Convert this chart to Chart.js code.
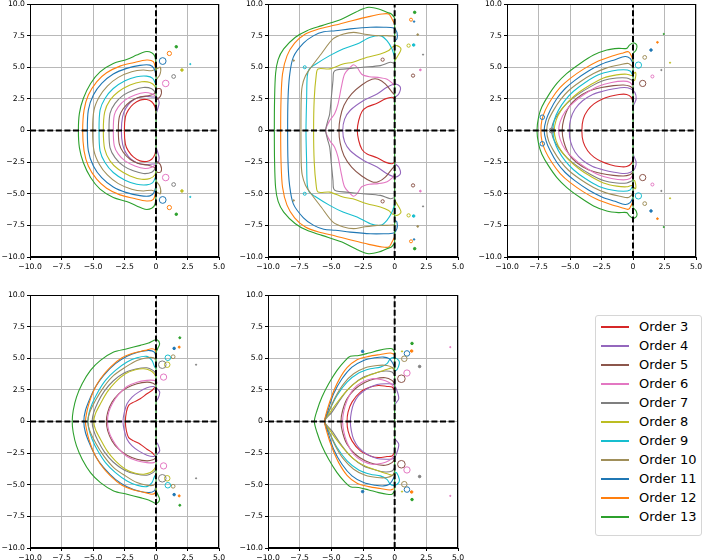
<!DOCTYPE html>
<html>
<head>
<meta charset="utf-8">
<script src="https://cdn.jsdelivr.net/npm/chart.js@4.4.1/dist/chart.umd.min.js"></script>
<style>
  html, body { margin: 0; padding: 0; background: #fff; }
  body { width: 705px; height: 560px; position: relative; overflow: hidden; font-family: "DejaVu Sans", sans-serif; }
  canvas { position: absolute; }
  #legend { position: absolute; left: 595px; top: 315px; width: 107px; height: 221px; border: 1px solid #d6d6d6; border-radius: 3px; background: #fff; box-sizing: border-box; }
  .row { position: absolute; left: 0; height: 19px; width: 100%; }
  .sw { position: absolute; left: 5px; top: 9px; width: 28px; height: 2px; }
  .lbl { position: absolute; left: 43px; top: 1px; font-size: 13px; line-height: 17px; color: #000; white-space: nowrap; }
</style>
</head>
<body>
<canvas id="c1"></canvas>
<canvas id="c2"></canvas>
<canvas id="c3"></canvas>
<canvas id="c4"></canvas>
<canvas id="c5"></canvas>
<div id="legend"></div>
<script>
// ---------------- DATA ----------------
const orders = [3, 4, 5, 6, 7, 8, 9, 10, 11, 12, 13];
const legendLabels = orders.map(o => 'Order ' + o);
const xTicks = [-10, -7.5, -5, -2.5, 0, 2.5, 5];
const yTicks = [-10, -7.5, -5, -2.5, 0, 2.5, 5, 7.5, 10];

// Upper halves of stability-region boundaries (mirrored about the real axis), one per order 3..13
const panelA = [
  [[-2.51,0],[-2.43,1.08],[-2.2,1.61],[-1.8,2.08],[-1.27,2.4],[-0.74,2.45],[-0.34,2.27],[-0.08,1.87],[0,1.35]],
  [[-2.75,0],[-2.65,1.1],[-2.4,1.75],[-2.0,2.25],[-1.4,2.6],[-0.8,2.7],[-0.3,2.65],[0.1,2.6],[0.25,2.2],[0.1,1.6],[0,1.3]],
  [[-2.99,0],[-2.91,1.08],[-2.59,1.74],[-2.06,2.27],[-1.4,2.61],[-0.61,2.75],[-0.16,2.9],[0.1,3.3],[0.4,3.25],[0.35,2.7],[0,2.4]],
  [[-3.39,0],[-3.31,1.21],[-2.99,1.87],[-2.46,2.4],[-1.67,2.8],[-0.87,3.0],[-0.34,2.9],[0,2.7]],
  [[-3.73,0],[-3.65,1.35],[-3.25,2.14],[-2.59,2.8],[-1.8,3.19],[-1.01,3.4],[-0.34,3.3],[0,2.95]],
  [[-4.18,0],[-4.07,1.48],[-3.65,2.4],[-2.99,3.06],[-2.06,3.59],[-1.14,3.85],[-0.48,3.8],[-0.08,3.5],[0,3.1]],
  [[-4.52,0],[-4.44,1.61],[-4.05,2.53],[-3.39,3.32],[-2.46,3.93],[-1.53,4.25],[-0.74,4.3],[-0.26,4.12],[0,3.6]],
  [[-5.03,0],[-4.92,1.61],[-4.5,2.66],[-3.86,3.51],[-2.99,4.2],[-1.93,4.64],[-1.01,4.78],[-0.34,4.72],[0.1,4.9],[0.35,5.0],[0.3,4.4],[0,4.0]],
  [[-5.45,0],[-5.37,1.61],[-4.97,2.8],[-4.31,3.72],[-3.39,4.46],[-2.33,4.91],[-1.27,5.15],[-0.48,5.17],[-0.16,4.91],[0,4.4]],
  [[-5.82,0],[-5.71,1.61],[-5.37,2.8],[-4.71,3.85],[-3.92,4.56],[-2.86,5.09],[-1.8,5.36],[-0.74,5.57],[-0.21,5.44],[0,4.8]],
  [[-6.16,0],[-6.08,1.35],[-5.77,2.53],[-5.19,3.72],[-4.44,4.64],[-3.39,5.3],[-2.33,5.62],[-1.53,5.96],[-0.87,6.23],[-0.34,6.15],[-0.08,5.83],[0,5.04]]
];
const panelB = [
  [[-2.95,0],[-2.84,0.79],[-2.58,1.5],[-2.18,1.85],[-1.39,2.15],[-0.74,2.5],[-0.21,2.63],[0,2.5]],
  [[-4.1,0],[-3.95,0.9],[-3.5,1.6],[-2.45,2.37],[-1.39,2.89],[-0.61,3.42],[0.05,3.68],[0.45,3.42],[0.32,2.89],[0,2.6]],
  [[-4.4,0],[-4.3,1.0],[-4.0,2.0],[-3.4,2.9],[-2.6,3.6],[-1.8,4.05],[-1.3,4.05],[-0.74,3.68],[-0.21,3.03],[0,2.8]],
  [[-5.45,0],[-5.13,0.79],[-4.74,1.32],[-4.47,2.11],[-4.21,3.42],[-3.95,4.47],[-3.5,5.0],[-3.24,5.2],[-2.97,5.0],[-2.6,4.45],[-2.0,4.25],[-1.3,4.2],[-0.6,4.05],[-0.15,3.7],[0,3.5]],
  [[-5.45,0],[-5.3,0.7],[-5.13,1.32],[-5.0,2.63],[-4.87,3.95],[-4.82,4.6],[-4.6,4.79],[-3.82,4.87],[-2.5,5.0],[-1.13,5.13],[-0.34,5.39],[0,5.3]],
  [[-6.4,0],[-6.35,2.5],[-6.2,4.3],[-6.05,4.87],[-5.13,4.87],[-4.08,5.26],[-3.3,5.4],[-2.18,5.79],[-1.13,6.05],[-0.47,6.32],[-0.21,6.58],[0.18,6.71],[0.5,6.45],[0.18,5.79],[0,5.5]],
  [[-7.0,0],[-6.95,2.5],[-6.9,4.3],[-6.75,4.85],[-6.3,5.2],[-5.13,5.92],[-4.08,6.45],[-2.97,6.84],[-1.92,7.37],[-1.13,7.5],[-0.61,7.1],[-0.21,6.45],[0,5.79]],
  [[-7.4,0],[-7.38,2.5],[-7.3,3.5],[-7.05,4.3],[-6.6,5.0],[-5.8,6.05],[-4.87,7.24],[-4.03,7.63],[-3.24,7.76],[-2.45,7.63],[-1.39,7.5],[-0.61,7.5],[0,7.45]],
  [[-8.45,0],[-8.42,2.5],[-8.3,4.3],[-8.0,5.8],[-7.2,6.9],[-6.39,7.5],[-5.6,7.8],[-4.68,7.89],[-3.5,8.03],[-1.92,8.16],[-0.87,8.16],[-0.08,8.1],[0.18,7.76],[0.18,7.24],[0,7.1]],
  [[-9.0,0],[-8.97,2.5],[-8.85,4.5],[-8.5,5.9],[-7.9,6.9],[-7.05,7.63],[-6.0,8.03],[-4.68,8.34],[-3.37,8.68],[-2.05,9.0],[-1.0,9.21],[-0.47,9.21],[-0.21,8.82],[0,8.4]],
  [[-9.5,0],[-9.48,2.5],[-9.4,4.5],[-9.2,5.6],[-8.76,6.45],[-7.84,7.37],[-6.92,7.89],[-5.74,8.29],[-4.16,8.82],[-2.84,9.47],[-2.05,9.74],[-1.26,9.61],[-0.61,9.34],[-0.26,9.21],[0,8.9]]
];
const panelC = [
  [[-4.06,0],[-3.95,0.9],[-3.6,1.6],[-3.1,2.1],[-2.5,2.45],[-1.8,2.7],[-1.1,2.85],[-0.5,2.85],[-0.12,2.6],[0,2.2]],
  [[-5.06,0],[-4.95,0.9],[-4.6,1.7],[-4.0,2.35],[-3.2,2.85],[-2.4,3.1],[-1.5,3.3],[-0.7,3.4],[-0.2,3.3],[0.15,3.0],[0.25,2.5],[0.05,2.0],[0,1.9]],
  [[-5.62,0],[-5.5,0.85],[-5.1,1.85],[-4.45,2.55],[-3.55,3.1],[-2.5,3.4],[-1.55,3.55],[-0.75,3.6],[-0.25,3.5],[0,3.3]],
  [[-5.9,0],[-5.78,0.7],[-5.38,1.5],[-4.72,2.2],[-3.8,2.9],[-2.74,3.5],[-1.7,3.8],[-0.76,3.9],[-0.23,3.8],[0,3.5]],
  [[-6.45,0],[-6.36,0.55],[-5.91,1.35],[-5.25,2.14],[-4.45,2.8],[-3.4,3.45],[-2.34,3.95],[-1.29,4.15],[-0.49,4.15],[0,3.95]],
  [[-6.25,0],[-6.1,0.82],[-5.7,1.61],[-5.12,2.3],[-4.32,3.0],[-3.4,3.6],[-2.34,4.15],[-1.29,4.4],[-0.49,4.45],[-0.1,4.35],[0.2,4.6],[0.15,4.0],[0,3.9]],
  [[-6.35,0],[-6.25,0.82],[-5.91,1.61],[-5.38,2.4],[-4.72,3.1],[-3.79,3.8],[-2.74,4.4],[-1.68,4.7],[-0.76,4.8],[-0.23,4.7],[0,4.3]],
  [[-6.85,0],[-6.7,0.82],[-6.3,1.61],[-5.78,2.4],[-5.12,3.14],[-4.19,3.85],[-3.13,4.5],[-2.08,4.95],[-1.02,5.2],[-0.36,5.3],[0,5.0]],
  [[-7.05,0],[-6.9,0.82],[-6.57,1.61],[-6.04,2.53],[-5.38,3.32],[-4.59,3.98],[-3.53,4.7],[-2.47,5.25],[-1.42,5.6],[-0.63,5.85],[-0.23,5.7],[0,5.3]],
  [[-7.31,0],[-7.23,0.82],[-6.96,1.61],[-6.44,2.53],[-5.78,3.4],[-4.98,4.12],[-3.93,4.85],[-2.87,5.44],[-1.81,5.83],[-0.89,6.1],[-0.36,6.23],[-0.1,5.83],[0,5.5]],
  [[-7.62,0],[-7.49,1.08],[-7.23,1.87],[-6.7,2.8],[-6.04,3.72],[-5.25,4.51],[-4.19,5.3],[-3.13,5.96],[-2.08,6.36],[-1.15,6.49],[-0.49,6.49],[-0.28,6.75],[0.03,6.94],[0.3,6.75],[0.25,6.36],[0,6.1]]
];
const panelD = [
  [[-2.43,0],[-2.35,0.74],[-2.17,1.27],[-1.77,1.53],[-1.25,1.8],[-0.72,2.19],[-0.32,2.45],[-0.13,2.66],[0,2.72]],
  [[-2.62,0],[-2.51,0.74],[-2.3,1.4],[-1.9,1.93],[-1.38,2.32],[-0.72,2.66],[-0.19,2.77],[0.08,2.6],[0.3,2.3],[0.15,1.8],[0,1.6]],
  [[-3.94,0],[-3.83,0.74],[-3.49,1.53],[-2.96,2.19],[-2.3,2.66],[-1.51,2.98],[-0.72,3.11],[-0.24,3.03],[0,2.85]],
  [[-3.85,0],[-3.75,0.74],[-3.45,1.45],[-3.0,2.1],[-2.3,2.77],[-1.51,3.11],[-0.72,3.25],[-0.19,3.25],[0.08,3.11],[0,2.9]],
  [[-5.07,0],[-4.95,0.7],[-4.6,1.55],[-4.1,2.4],[-3.4,3.2],[-2.5,3.85],[-1.6,4.15],[-0.72,4.25],[-0.24,4.04],[0,3.8]],
  [[-4.94,0],[-4.81,0.61],[-4.41,1.4],[-3.88,2.32],[-3.22,3.11],[-2.43,3.77],[-1.64,4.09],[-0.98,4.17],[-0.45,4.04],[-0.13,3.77],[0,3.51]],
  [[-5.4,0],[-5.33,0.61],[-5.07,1.4],[-4.62,2.32],[-4.01,3.25],[-3.22,4.04],[-2.3,4.7],[-1.51,5.04],[-0.72,5.15],[-0.32,4.83],[-0.13,4.36],[0,4.17]],
  [[-5.41,0],[-5.25,0.74],[-4.81,1.66],[-4.15,2.72],[-3.36,3.64],[-2.43,4.3],[-1.51,4.83],[-0.72,5.04],[-0.19,5.04],[0,4.83]],
  [[-5.73,0],[-5.6,0.87],[-5.25,1.8],[-4.81,2.72],[-4.15,3.65],[-3.22,4.57],[-2.3,5.15],[-1.38,5.49],[-0.59,5.62],[-0.13,5.49],[0,5.09]],
  [[-5.6,0],[-5.52,0.61],[-5.33,1.4],[-4.94,2.45],[-4.41,3.38],[-3.62,4.3],[-2.7,5.04],[-1.77,5.41],[-0.85,5.62],[-0.32,5.75],[-0.05,5.62],[0,5.22]],
  [[-6.65,0],[-6.57,0.87],[-6.31,1.93],[-5.86,2.98],[-5.2,4.04],[-4.41,4.83],[-3.36,5.49],[-2.3,5.75],[-1.25,6.02],[-0.59,6.2],[-0.18,6.41],[0.08,6.46],[0.29,6.15],[0.13,5.75],[0,5.49]]
];
const panelE = [
  [[-3.76,0],[-3.68,0.74],[-3.37,1.53],[-2.71,2.32],[-1.92,2.72],[-1.26,2.85],[-0.61,2.77],[-0.21,2.72],[0,2.45]],
  [[-3.5,0],[-3.42,0.74],[-3.24,1.4],[-2.84,2.06],[-2.18,2.59],[-1.39,2.93],[-0.61,2.98],[-0.08,2.93],[0.18,2.45],[0.32,1.8],[0.05,1.4],[0,1.3]],
  [[-4.24,0],[-4.11,0.87],[-3.76,1.8],[-3.11,2.59],[-2.32,3.11],[-1.53,3.38],[-0.74,3.46],[-0.21,3.25],[0,2.98]],
  [[-4.11,0],[-4.03,0.74],[-3.76,1.66],[-3.24,2.59],[-2.58,3.11],[-1.79,3.38],[-1.0,3.3],[-0.47,3.11],[-0.16,2.85],[0,2.59]],
  [[-5.53,0],[-4.95,0.74],[-4.16,1.93],[-3.37,2.85],[-2.45,3.51],[-1.53,3.83],[-0.74,3.99],[-0.21,3.91],[0,3.64]],
  [[-5.53,0],[-5.08,0.74],[-4.42,1.66],[-3.63,2.59],[-2.84,3.25],[-2.05,3.64],[-1.26,3.91],[-0.47,4.17],[-0.16,4.25],[0,4.04]],
  [[-5.53,0],[-5.16,0.87],[-4.55,2.06],[-3.76,3.11],[-2.84,3.83],[-1.92,4.17],[-1.13,4.3],[-0.61,4.57],[-0.34,4.96],[0,5.04],[0.32,4.83],[0.37,4.57],[0.18,4.09],[0,3.99]],
  [[-5.53,0],[-5.21,0.74],[-4.68,1.93],[-4.03,2.98],[-3.24,3.77],[-2.32,4.25],[-1.39,4.43],[-0.61,4.43],[-0.16,4.25],[0,3.91]],
  [[-5.53,0],[-5.26,0.87],[-4.82,2.19],[-4.16,3.38],[-3.37,4.3],[-2.45,4.83],[-1.53,5.04],[-0.87,5.09],[-0.42,4.96],[-0.21,4.7],[0,4.3]],
  [[-5.53,0],[-5.34,0.87],[-4.95,2.06],[-4.42,3.25],[-3.76,4.25],[-2.97,4.88],[-2.05,5.15],[-1.13,5.3],[-0.34,5.41],[0,5.3]],
  [[-6.34,0],[-6.13,0.87],[-5.74,1.93],[-5.21,2.98],[-4.55,4.04],[-3.89,4.83],[-3.5,5.15],[-2.84,5.22],[-2.05,5.41],[-1.26,5.62],[-0.61,5.75],[-0.21,5.75],[0,5.49]]
];

// Small isolated stability islands: [order, x, y, radius] (mirrored about real axis)
const islandsA = [[13,1.61,6.62,0.1],[12,1.06,6.09,0.17],[11,0.53,5.49,0.27],[9,2.72,5.25,0.05],[8,2.06,4.78,0.1],[7,1.40,4.27,0.15],[6,0.77,3.72,0.26]];
const islandsB = [[13,1.58,9.34,0.1],[12,1.29,8.76,0.12],[11,1.53,8.61,0.06],[10,1.82,7.58,0.07],[9,1.5,6.76,0.1],[8,1.1,6.71,0.13],[7,2.24,6.0,0.04],[6,2.03,4.79,0.07],[5,1.45,4.34,0.13],[5,-0.95,5.6,0.13],[9,-7.1,5.0,0.12],[10,-7.97,5.53,0.06]];
const islandsC = [[5,0.77,3.72,0.25],[6,1.54,4.27,0.12],[7,2.25,4.78,0.05],[8,2.94,5.36,0.04],[9,0.43,5.17,0.25],[10,0.93,5.78,0.15],[11,1.43,6.36,0.1],[12,1.94,6.97,0.07],[13,2.44,7.63,0.04],[11,-7.2,1.05,0.18],[7,-6.45,0,0.2]];
const islandsD = [[13,1.89,6.62,0.08],[12,1.84,5.88,0.08],[11,1.44,5.78,0.1],[10,1.36,5.12,0.15],[9,0.94,5.04,0.22],[8,0.89,4.49,0.22],[7,0.5,4.49,0.3],[6,0.6,3.51,0.25],[7,3.18,4.49,0.03]];
const islandsE = [[13,1.37,6.17,0.1],[12,1.34,5.57,0.1],[11,0.97,5.38,0.22],[8,0.58,5.54,0.05],[10,0.76,4.96,0.22],[7,1.97,4.35,0.1],[6,0.97,3.83,0.25],[5,0.53,3.38,0.3],[11,-2.53,5.54,0.1],[6,4.39,5.88,0.03]];

// ---------------- STYLE ----------------
const colorOf = {3:'#d62728',4:'#9467bd',5:'#8c564b',6:'#e377c2',7:'#7f7f7f',8:'#bcbd22',9:'#17becf',10:'#a08f5a',11:'#1f77b4',12:'#ff7f0e',13:'#2ca02c'};
const FONT = {family: "'DejaVu Sans', sans-serif", size: 7.7};
const fmt = v => (v === 0 ? '0' : v.toFixed(1).replace('-', '\u2212'));

const frame = {
  id: 'frame',
  afterDatasetsDraw(chart) {
    const a = chart.chartArea, c = chart.ctx;
    c.save();
    c.strokeStyle = '#000';
    c.lineWidth = 1;
    c.strokeRect(Math.round(a.left) + 0.5, Math.round(a.top) + 0.5, Math.round(a.right - a.left) - 1, Math.round(a.bottom - a.top) - 1);
    c.restore();
  }
};

function closedCurve(upper) {
  const top = upper.slice().reverse().map(([x, y]) => ({x, y}));
  const low = upper.slice(1).map(([x, y]) => ({x, y: -y}));
  return top.concat(low);
}

function makePanel(id, curves, islands, left, top, w, h) {
  const cv = document.getElementById(id);
  const padT = 8, padR = 10, yW = 30, xH = 15;
  cv.width = yW + w + padR;
  cv.height = padT + h + xH;
  cv.style.left = (left - yW) + 'px';
  cv.style.top = (top - padT) + 'px';

  const datasets = [];
  datasets.push({data: [{x: -10, y: 0}, {x: 5, y: 0}], showLine: true, borderColor: '#000', borderWidth: 2, borderDash: [6, 2.6], pointRadius: 0, order: -2});
  datasets.push({data: [{x: 0, y: -10}, {x: 0, y: 10}], showLine: true, borderColor: '#000', borderWidth: 2, borderDash: [6, 2.6], pointRadius: 0, order: -2});
  curves.forEach((up, i) => {
    const o = orders[i];
    datasets.push({data: closedCurve(up), showLine: true, borderColor: colorOf[o], borderWidth: 1.1, pointRadius: 0, tension: 0.3, order: 20 - o});
  });
  const g = curves[curves.length - 1];
  const gy = g[g.length - 1][1];
  datasets.push({data: [{x: 0, y: -gy}, {x: 0, y: gy}], showLine: true, borderColor: colorOf[13], borderWidth: 1.1, pointRadius: 0, order: 6});
  const pts = [];
  islands.forEach(([o, x, y, r]) => { pts.push({x, y, o, r}); if (y !== 0) pts.push({x, y: -y, o, r}); });
  datasets.push({
    data: pts, showLine: false, order: 0,
    pointStyle: 'circle',
    pointRadius: ctx => { const s = ctx.chart.scales.x; const p = ctx.raw; return Math.max(0.6, Math.abs(s.getPixelForValue(p.x + p.r) - s.getPixelForValue(p.x))); },
    pointBorderColor: ctx => colorOf[ctx.raw.o],
    pointBackgroundColor: ctx => (ctx.raw.r < 0.12 ? colorOf[ctx.raw.o] : 'rgba(255,255,255,0)'),
    pointBorderWidth: 1,
    pointHoverRadius: 0
  });

  const axisCommon = (min, max, ticksArr) => ({
    type: 'linear', min, max,
    afterBuildTicks: sc => { sc.ticks = ticksArr.map(v => ({value: v})); },
    ticks: {callback: fmt, font: FONT, color: '#000', padding: 2, maxRotation: 0, autoSkip: false},
    grid: {color: '#b8b8b8', lineWidth: 1, tickColor: '#000', tickLength: 3},
    border: {color: '#000', width: 1}
  });
  const xs = axisCommon(-10, 5, xTicks); xs.afterFit = s => { s.height = xH; };
  const ys = axisCommon(-10, 10, yTicks); ys.afterFit = s => { s.width = yW; };

  new Chart(cv, {
    type: 'scatter',
    data: {datasets},
    options: {
      responsive: false, animation: false, devicePixelRatio: 1,
      layout: {padding: {left: 0, top: padT, right: padR, bottom: 0}},
      plugins: {legend: {display: false}, tooltip: {enabled: false}},
      events: [],
      scales: {x: xs, y: ys}
    },
    plugins: [frame]
  });
}

makePanel('c1', panelA, islandsA, 30, 4, 189, 253);
makePanel('c2', panelB, islandsB, 268, 4, 190, 253);
makePanel('c3', panelC, islandsC, 507, 4, 189, 253);
makePanel('c4', panelD, islandsD, 30, 295, 189, 253);
makePanel('c5', panelE, islandsE, 268, 295, 190, 253);

const lg = document.getElementById('legend');
orders.forEach((o, i) => {
  const row = document.createElement('div');
  row.className = 'row';
  row.style.top = (1 + 19 * i) + 'px';
  const sw = document.createElement('div');
  sw.className = 'sw';
  sw.style.background = colorOf[o];
  const lb = document.createElement('span');
  lb.className = 'lbl';
  lb.textContent = legendLabels[i];
  row.appendChild(sw); row.appendChild(lb);
  lg.appendChild(row);
});
</script>
</body>
</html>
